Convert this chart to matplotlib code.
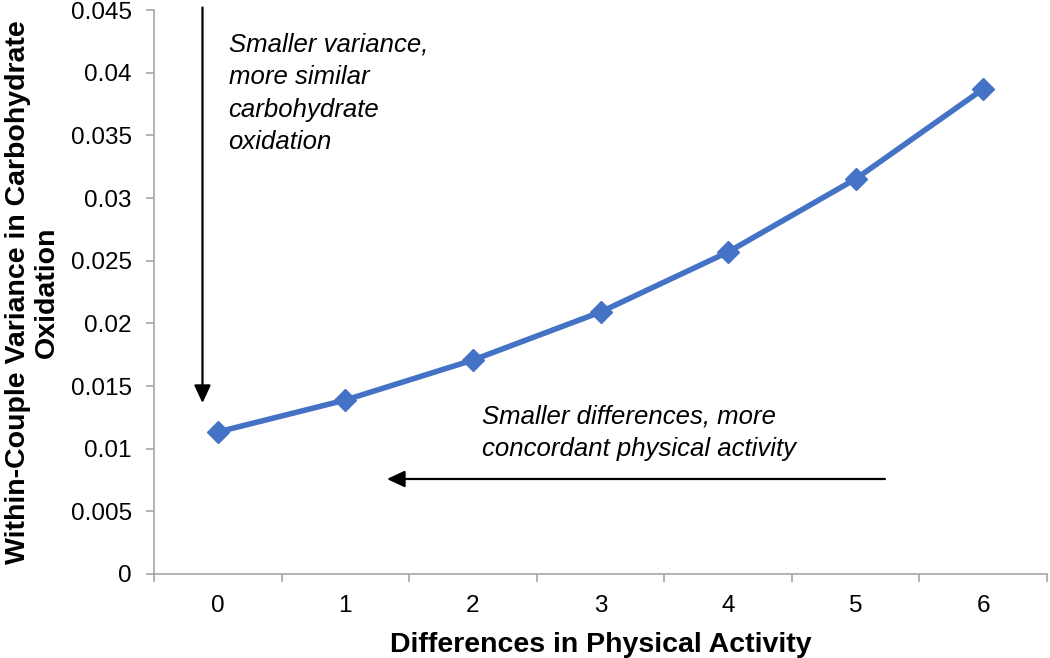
import matplotlib
matplotlib.use("Agg")
import matplotlib.pyplot as plt
from matplotlib.ticker import FixedLocator

plt.rcParams['font.family'] = ['Liberation Sans', 'DejaVu Sans']

categories = ["0", "1", "2", "3", "4", "5", "6"]
variance = [0.01133, 0.01388, 0.01707, 0.0209, 0.02569, 0.03152, 0.0387]
y_ticks = [0, 0.005, 0.01, 0.015, 0.02, 0.025, 0.03, 0.035, 0.04, 0.045]
y_tick_labels = ["0", "0.005", "0.01", "0.015", "0.02", "0.025", "0.03", "0.035", "0.04", "0.045"]

fig = plt.figure(figsize=(10.5, 6.58), dpi=100)
ax = fig.add_axes([154/1050, 1 - 574/658, (1047-154)/1050, (574-10)/658])

x = list(range(len(categories)))
ax.plot(x, variance, color="#4472C4", lw=4, marker="D", markersize=11,
        markeredgecolor="#4472C4", markerfacecolor="#4472C4", solid_capstyle="round",
        clip_on=False)

ax.set_xlim(-0.5, len(categories) - 0.5)
ax.set_ylim(0, 0.045)
ax.set_yticks(y_ticks)
ax.set_yticklabels(y_tick_labels)
ax.set_xticks(x)
ax.set_xticklabels(categories)
ax.xaxis.set_minor_locator(FixedLocator([i - 0.5 for i in range(len(categories) + 1)]))

for s in ["top", "right"]:
    ax.spines[s].set_visible(False)
for s in ["left", "bottom"]:
    ax.spines[s].set_color("#A6A6A6")
    ax.spines[s].set_linewidth(1.2)

ax.tick_params(axis="y", which="major", length=6, color="#A6A6A6", width=1.2,
               labelsize=17.5, pad=10)
ax.tick_params(axis="x", which="major", length=0, labelsize=17.5, pad=15)
ax.tick_params(axis="x", which="minor", length=6, color="#A6A6A6", width=1.2)

ax.set_xlabel("Differences in Physical Activity", fontsize=20.5, fontweight="bold", labelpad=11)
ax.set_ylabel("Within-Couple Variance in Carbohydrate\nOxidation", fontsize=20.5,
              fontweight="bold", labelpad=8, linespacing=1.15)

arrow_style = "-|>,head_length=0.6,head_width=0.28"
# annotations
ax.annotate("", xy=(-0.12, 0.01364), xytext=(-0.12, 0.0452),
            arrowprops=dict(arrowstyle=arrow_style, color="black", lw=1.6,
                            mutation_scale=18, shrinkA=0, shrinkB=0),
            annotation_clip=False)
ax.text(0.085, 0.0432, "Smaller variance,\nmore similar\ncarbohydrate\noxidation",
        fontsize=18.5, style="italic", va="top", ha="left", linespacing=1.45)

ax.annotate("", xy=(1.326, 0.00758), xytext=(5.23, 0.00758),
            arrowprops=dict(arrowstyle=arrow_style, color="black", lw=1.6,
                            mutation_scale=18, shrinkA=0, shrinkB=0))
ax.text(2.07, 0.0135, "Smaller differences, more\nconcordant physical activity",
        fontsize=18.5, style="italic", va="top", ha="left", linespacing=1.45)

fig.savefig("out.png", dpi=100)
